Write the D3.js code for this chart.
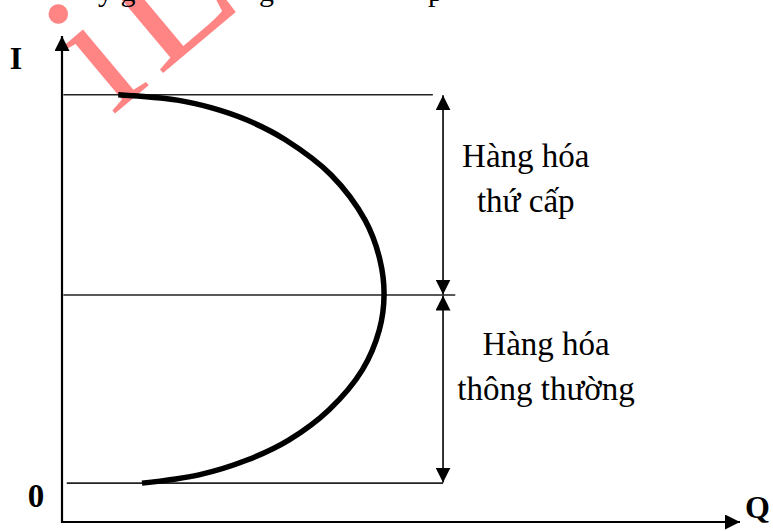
<!DOCTYPE html>
<html>
  <head>
    <meta charset="utf-8" />
    <title>Đường Engel</title>
    <style>
      body,
      html {
        margin: 0;
        padding: 0;
        background: #fff;
      }
      text {
        font-family: 'Liberation Serif', 'Times New Roman', serif;
      }
    </style>
  </head>
  <body>
    <svg id="svg" width="773" height="531"></svg>

    <script src="https://cdn.jsdelivr.net/npm/d3@7"></script>
    <script>
      // income levels (I) of the three horizontal guides: low, turning point, high
      const incomeLevels = [8.0, 46.7, 87.9];
      // where each guide line stops on the Q axis
      const guideStart = [0.7, 0.2, 0.2];
      const guideEnd = [56.2, 58.0, 54.7];
      const bracketQ = 56.2;

      // Engel curve (Q, I), bottom to top
      const curveQ = [11.8, 20.2, 27.4, 33.5, 39.4, 44.3, 46.8, 47.5, 46.9, 44.7, 39.7, 33.0, 27.3, 22.1, 17.0, 8.3];
      const curveI = [8.0, 9.7, 12.8, 16.9, 23.1, 31.3, 39.5, 46.7, 53.9, 62.1, 71.4, 78.6, 82.7, 85.2, 86.8, 87.9];

      const zoneLabels = [
        ['Hàng hóa', 'thứ cấp'],
        ['Hàng hóa', 'thông thường']
      ];
      const axisLabels = { x: 'Q', y: 'I' };
      const tickLabels = ['0'];

      const svg = d3.select('#svg');

      const xScale = d3.scaleLinear().domain([0, 100]).range([62, 740]);
      const yScale = d3.scaleLinear().domain([0, 100]).range([522, 36]);

      // arrow heads
      const defs = svg.append('defs');
      defs
        .append('marker')
        .attr('id', 'head')
        .attr('markerUnits', 'userSpaceOnUse')
        .attr('viewBox', '0 0 16 16')
        .attr('refX', 16)
        .attr('refY', 8)
        .attr('markerWidth', 15)
        .attr('markerHeight', 15)
        .attr('orient', 'auto-start-reverse')
        .append('path')
        .attr('d', 'M0,0 L16,8 L0,16 Z')
        .attr('fill', '#000');

      // watermark left on the scanned page
      svg
        .append('text')
        .attr('transform', 'translate(112,116) rotate(-40)')
        .attr('font-size', 185)
        .attr('letter-spacing', 10)
        .attr('fill', '#ff0000')
        .attr('fill-opacity', 0.48)
        .text('iL');

      // cut-off line of text above the figure
      svg
        .append('g')
        .selectAll('text')
        .data([
          { t: 'y g', x: 98 },
          { t: 'g', x: 259 },
          { t: 'p', x: 428 }
        ])
        .join('text')
        .attr('x', (d) => d.x)
        .attr('y', 1)
        .attr('font-size', 30)
        .text((d) => d.t);

      // axes
      const axes = svg.append('g').attr('stroke', '#000').attr('stroke-width', 2.2);
      axes
        .append('line')
        .attr('x1', xScale(0))
        .attr('y1', yScale(0) + 1)
        .attr('x2', xScale(0))
        .attr('y2', yScale(100))
        .attr('marker-end', 'url(#head)');
      axes
        .append('line')
        .attr('x1', xScale(0) - 1)
        .attr('y1', yScale(0))
        .attr('x2', xScale(100))
        .attr('y2', yScale(0))
        .attr('marker-end', 'url(#head)');

      // horizontal guides
      svg
        .append('g')
        .selectAll('line')
        .data(incomeLevels)
        .join('line')
        .attr('x1', (d, i) => xScale(guideStart[i]))
        .attr('x2', (d, i) => xScale(guideEnd[i]))
        .attr('y1', (d) => yScale(d))
        .attr('y2', (d) => yScale(d))
        .attr('stroke', '#222')
        .attr('stroke-width', 1.6);

      // double-headed brackets
      const spans = d3.pairs(incomeLevels);
      svg
        .append('g')
        .selectAll('line')
        .data(spans)
        .join('line')
        .attr('x1', xScale(bracketQ))
        .attr('x2', xScale(bracketQ))
        .attr('y1', (d) => yScale(d[0]) - 0.5)
        .attr('y2', (d) => yScale(d[1]) + 0.5)
        .attr('stroke', '#000')
        .attr('stroke-width', 1.6)
        .attr('marker-start', 'url(#head)')
        .attr('marker-end', 'url(#head)');

      // Engel curve
      const curveData = curveQ.map((q, i) => ({ q, inc: curveI[i] }));
      const line = d3
        .line()
        .x((d) => xScale(d.q))
        .y((d) => yScale(d.inc))
        .curve(d3.curveCatmullRom.alpha(0.5));
      svg
        .append('path')
        .datum(curveData)
        .attr('d', line)
        .attr('fill', 'none')
        .attr('stroke', '#000')
        .attr('stroke-width', 5.5);

      // zone labels, upper zone first
      const labelPos = [
        { q: 68.4, inc: 73.1 },
        { q: 71.4, inc: 34.4 }
      ];
      const labels = svg.append('g').attr('font-size', 33).attr('text-anchor', 'middle');
      zoneLabels.forEach((lines, i) => {
        const t = labels
          .append('text')
          .attr('x', xScale(labelPos[i].q))
          .attr('y', yScale(labelPos[i].inc));
        lines.forEach((s, j) => {
          t.append('tspan')
            .attr('x', xScale(labelPos[i].q))
            .attr('dy', j === 0 ? 0 : 45)
            .text(s);
        });
      });

      // axis names and origin
      svg
        .append('text')
        .attr('x', 16)
        .attr('y', 69)
        .attr('text-anchor', 'middle')
        .attr('font-size', 32)
        .attr('font-weight', 'bold')
        .text(axisLabels.y);
      svg
        .append('text')
        .attr('x', 745)
        .attr('y', 518)
        .attr('font-size', 32)
        .attr('font-weight', 'bold')
        .text(axisLabels.x);
      svg
        .append('text')
        .attr('x', 36)
        .attr('y', 507)
        .attr('text-anchor', 'middle')
        .attr('font-size', 33)
        .attr('font-weight', 'bold')
        .text(tickLabels[0]);
    </script>
  </body>
</html>
